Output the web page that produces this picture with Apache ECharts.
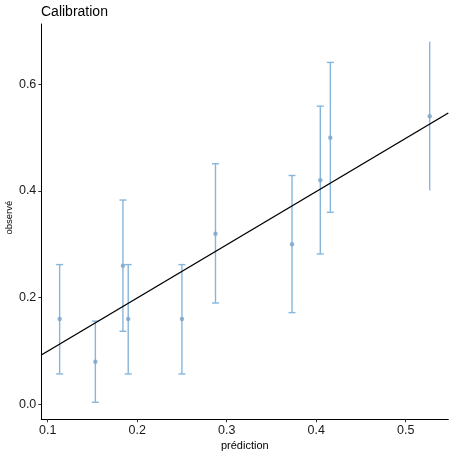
<!DOCTYPE html>
<html>
<head>
<meta charset="utf-8">
<script src="https://cdn.jsdelivr.net/npm/echarts@6/dist/echarts.min.js"></script>
<style>html,body{margin:0;padding:0;background:#fff}#c{width:454px;height:457px}</style>
</head>
<body>
<div id="c"></div>
<script>
const predX  = [0.1134, 0.1533, 0.1841, 0.190, 0.250, 0.2875, 0.373, 0.4046, 0.4158, 0.5268];
const obsY   = [0.16, 0.08, 0.26, 0.16, 0.16, 0.32, 0.30, 0.42, 0.50, 0.54];
const lowerY = [0.057, 0.004, 0.137, 0.057, 0.057, 0.19, 0.172, 0.282, 0.36, 0.401];
const upperY = [0.262, 0.156, 0.383, 0.262, 0.262, 0.451, 0.429, 0.559, 0.641, 0.68];
const capped = [true, true, true, true, true, true, true, true, true, false];
const refLineX = [0.0929, 0.5476];
const refLineY = [0.0925, 0.5462];
const xTicks = [0.1, 0.2, 0.3, 0.4, 0.5];
const yTicks = [0.0, 0.2, 0.4, 0.6];

const FONT = 'Liberation Sans, Arial, sans-serif';
const chart = echarts.init(document.getElementById('c'), null, {renderer: 'canvas'});
const errData = predX.map((x, i) => [x, lowerY[i], upperY[i], capped[i] ? 1 : 0]);

chart.setOption({
  animation: false,
  backgroundColor: '#fff',
  title: {
    text: 'Calibration', left: 41, top: 5, padding: 0,
    textStyle: {fontFamily: FONT, fontSize: 14, fontWeight: 'normal', color: '#000'}
  },
  grid: {left: 41.3, right: 5.7, top: 24, bottom: 37.7, outerBoundsMode: 'none'},
  xAxis: {
    type: 'value', min: 0.0929, max: 0.5476,
    name: 'prédiction', nameLocation: 'middle', nameGap: 21, nameMoveOverlap: false,
    nameTextStyle: {fontFamily: FONT, fontSize: 11, color: '#000'},
    splitLine: {show: false},
    axisLine: {show: true, onZero: false, lineStyle: {color: '#000', width: 1}},
    axisTick: {show: true, length: 3, customValues: xTicks, lineStyle: {color: '#333'}},
    axisLabel: {customValues: xTicks, margin: 5, fontFamily: FONT, fontSize: 12.5, color: '#1a1a1a',
      formatter: v => v.toFixed(1)}
  },
  yAxis: {
    type: 'value', min: -0.028, max: 0.713,
    name: 'observé', nameLocation: 'middle', nameGap: 27, nameRotate: 90, nameMoveOverlap: false,
    nameTextStyle: {fontFamily: FONT, fontSize: 9.5, color: '#000', padding: [0, 0, 0, 8]},
    splitLine: {show: false},
    axisLine: {show: true, onZero: false, lineStyle: {color: '#000', width: 1}},
    axisTick: {show: true, length: 3, customValues: yTicks, lineStyle: {color: '#333'}},
    axisLabel: {customValues: yTicks, margin: 5, fontFamily: FONT, fontSize: 12.5, color: '#1a1a1a',
      formatter: v => v.toFixed(1)}
  },
  series: [
    {
      type: 'custom',
      data: errData,
      z: 2,
      renderItem: function (params, api) {
        const x = api.value(0);
        const lo = api.coord([x, api.value(1)]);
        const hi = api.coord([x, api.value(2)]);
        const cap = api.value(3);
        const style = {stroke: '#86b6dc', lineWidth: 1.4, fill: null};
        const children = [
          {type: 'line', shape: {x1: lo[0], y1: lo[1], x2: hi[0], y2: hi[1]}, style: style}
        ];
        if (cap) {
          const hw = 3.5;
          children.push({type: 'line', shape: {x1: hi[0] - hw, y1: hi[1], x2: hi[0] + hw, y2: hi[1]}, style: style});
          children.push({type: 'line', shape: {x1: lo[0] - hw, y1: lo[1], x2: lo[0] + hw, y2: lo[1]}, style: style});
        }
        return {type: 'group', children: children};
      }
    },
    {
      type: 'scatter',
      data: predX.map((x, i) => [x, obsY[i]]),
      symbol: 'circle', symbolSize: 4.5,
      itemStyle: {color: '#7aa3c8'},
      z: 3
    },
    {
      type: 'line',
      data: refLineX.map((x, i) => [x, refLineY[i]]),
      showSymbol: false, symbol: 'none',
      lineStyle: {color: '#000', width: 1.4},
      z: 4
    }
  ]
});
</script>
</body>
</html>
